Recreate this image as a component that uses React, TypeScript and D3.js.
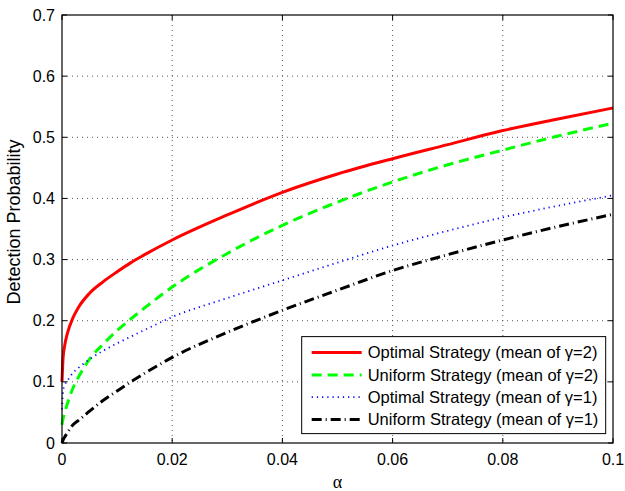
import * as d3 from "d3";

const alphas = [0, 0.0002, 0.0005, 0.001, 0.002, 0.003, 0.005, 0.0075, 0.01, 0.0125, 0.015, 0.02, 0.03, 0.04, 0.05, 0.06, 0.07, 0.08, 0.09, 0.1];
const optimalG2 = [0.1, 0.14, 0.16, 0.18, 0.205, 0.222, 0.245, 0.264, 0.28, 0.295, 0.308, 0.332, 0.373, 0.41, 0.44, 0.465, 0.488, 0.511, 0.53, 0.548];
const uniformG2 = [0.03, 0.04, 0.05, 0.065, 0.09, 0.108, 0.137, 0.162, 0.184, 0.203, 0.221, 0.255, 0.31, 0.356, 0.394, 0.427, 0.455, 0.479, 0.502, 0.523];
const optimalG1 = [0.055, 0.085, 0.095, 0.102, 0.115, 0.123, 0.137, 0.151, 0.163, 0.174, 0.185, 0.206, 0.237, 0.266, 0.295, 0.323, 0.347, 0.369, 0.388, 0.405];
const uniformG1 = [0, 0.005, 0.01, 0.017, 0.03, 0.037, 0.052, 0.07, 0.085, 0.1, 0.114, 0.14, 0.181, 0.217, 0.25, 0.282, 0.308, 0.332, 0.354, 0.374];

const xTicks = [0, 0.02, 0.04, 0.06, 0.08, 0.1];
const yTicks = [0, 0.1, 0.2, 0.3, 0.4, 0.5, 0.6, 0.7];

const SERIES = [
  { label: "Optimal Strategy (mean of \u03b3=2)", values: optimalG2, color: "#ff0000", width: 3, dash: "" },
  { label: "Uniform Strategy (mean of \u03b3=2)", values: uniformG2, color: "#00ff00", width: 3, dash: "10,6" },
  { label: "Optimal Strategy (mean of \u03b3=1)", values: optimalG1, color: "#0000ff", width: 1.8, dash: "1.2,4" },
  { label: "Uniform Strategy (mean of \u03b3=1)", values: uniformG1, color: "#000000", width: 3, dash: "10,4,1,4" },
];

const W = 625, H = 491;
const M = { top: 15, right: 12, bottom: 48, left: 62 };
const FONT = "Liberation Sans, Arial, sans-serif";

export default function App() {
  const iW = W - M.left - M.right, iH = H - M.top - M.bottom;
  const x = d3.scaleLinear().domain([0, 0.1]).range([0, iW]);
  const y = d3.scaleLinear().domain([0, 0.7]).range([iH, 0]);
  const line = d3.line<number>().x((_, i) => x(alphas[i])).y(d => y(d)).curve(d3.curveMonotoneX);

  return (
    <svg width={W} height={H} style={{ position: "absolute", left: 0, top: 0, background: "#fff" }} fontFamily={FONT}>
      <g transform={`translate(${M.left},${M.top})`}>
        {xTicks.slice(1, -1).map(t => (
          <line key={"gx" + t} x1={x(t)} x2={x(t)} y1={0} y2={iH} stroke="#555" strokeWidth={1} strokeDasharray="1,4" />
        ))}
        {yTicks.slice(1, -1).map(t => (
          <line key={"gy" + t} x1={0} x2={iW} y1={y(t)} y2={y(t)} stroke="#555" strokeWidth={1} strokeDasharray="1,4" />
        ))}
        {SERIES.map(s => (
          <path key={s.label} d={line(s.values) ?? ""} fill="none" stroke={s.color} strokeWidth={s.width} strokeDasharray={s.dash} />
        ))}
        <rect x={0} y={0} width={iW} height={iH} fill="none" stroke="#000" strokeWidth={1.2} />
        {xTicks.map(t => (
          <g key={"tx" + t}>
            <line x1={x(t)} x2={x(t)} y1={iH} y2={iH - 5} stroke="#000" />
            <line x1={x(t)} x2={x(t)} y1={0} y2={5} stroke="#000" />
            <text x={x(t)} y={iH + 22} textAnchor="middle" fontSize={16}>{t}</text>
          </g>
        ))}
        {yTicks.map(t => (
          <g key={"ty" + t}>
            <line x1={0} x2={5} y1={y(t)} y2={y(t)} stroke="#000" />
            <line x1={iW} x2={iW - 5} y1={y(t)} y2={y(t)} stroke="#000" />
            <text x={-7} y={y(t)} dy="0.35em" textAnchor="end" fontSize={16}>{t}</text>
          </g>
        ))}
        <text x={iW / 2} y={iH + 45} textAnchor="middle" fontSize={18} fontFamily="Liberation Serif, serif">α</text>
        <text transform={`translate(${-42},${iH / 2 - 7}) rotate(-90)`} textAnchor="middle" fontSize={18}>Detection Probability</text>
        <g transform={`translate(${x(0.0435)},${y(0.174)})`}>
          <rect x={0} y={0} width={304} height={97} fill="#fff" stroke="#000" strokeWidth={1} />
          {SERIES.map((s, i) => (
            <g key={"lg" + i} transform={`translate(0,${16 + i * 22.3})`}>
              <line x1={10} x2={60} y1={0} y2={0} stroke={s.color} strokeWidth={s.width} strokeDasharray={s.dash} />
              <text x={66} y={0} dy="0.35em" fontSize={16.5}>{s.label}</text>
            </g>
          ))}
        </g>
      </g>
    </svg>
  );
}
